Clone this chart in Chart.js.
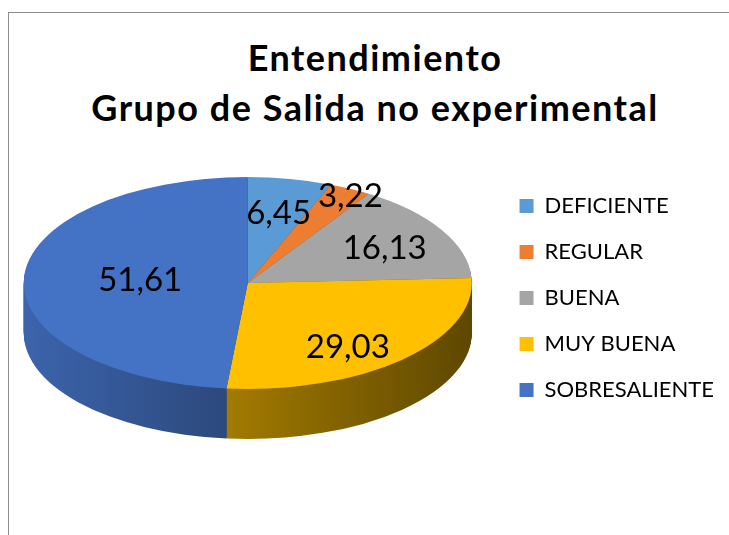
<!DOCTYPE html>
<html>
<head>
<meta charset="utf-8">
<title>Entendimiento - Grupo de Salida no experimental</title>
<script src="https://cdn.jsdelivr.net/npm/chart.js@4.4.1/dist/chart.umd.min.js"></script>
<style>
  html, body { margin: 0; padding: 0; background: #fff; }
  #wrap { position: relative; width: 729px; height: 535px; overflow: hidden; }
  #frame { position: absolute; left: 8px; top: 12px; width: 800px; height: 600px;
           border-left: 1px solid #8c8c8c; border-top: 1px solid #8c8c8c; }
  #titulo { position: absolute; left: 0; top: 32px; width: 750px; text-align: center;
            font: bold 36px/50px Lato, "Open Sans", sans-serif; letter-spacing: 1.5px; color: #000; }
  #grafico { position: absolute; left: 0; top: 0; }
</style>
</head>
<body>
<div id="wrap">
  <div id="frame"></div>
  <div id="titulo">Entendimiento<br>Grupo de Salida no experimental</div>
  <canvas id="grafico" width="729" height="535"></canvas>
</div>
<script>
const categorias = ["DEFICIENTE", "REGULAR", "BUENA", "MUY BUENA", "SOBRESALIENTE"];
const valores = [6.45, 3.22, 16.13, 29.03, 51.61];
const colores = ["#5B9BD5", "#ED7D31", "#A5A5A5", "#FFC000", "#4472C4"];

// look of the tilted pie
const SQUASH = 0.473;
const DEPTH = 50;
const PIE_Y = 283;

Chart.defaults.font.family = "Lato, 'Open Sans', sans-serif";

function hexRgb(hex) {
  const n = parseInt(hex.slice(1), 16);
  return [(n >> 16) & 255, (n >> 8) & 255, n & 255];
}

function shade(hex, f) {
  const [r, g, b] = hexRgb(hex).map(v => Math.round(v * f));
  return `rgb(${r},${g},${b})`;
}

// move the pie to PIE_Y and flatten it
function tilt(ctx, arc) {
  ctx.translate(arc.x, PIE_Y);
  ctx.scale(1, SQUASH);
  ctx.translate(-arc.x, -arc.y);
}

const pie3d = {
  id: "pie3d",
  beforeDatasetsDraw(chart) {
    const ctx = chart.ctx;
    const arcs = chart.getDatasetMeta(0).data;
    const first = arcs[0];
    const r = first.outerRadius;

    // side walls, darker towards the right
    const sides = arcs.map((arc, i) => {
      const g = ctx.createLinearGradient(first.x - r, 0, first.x + r, 0);
      g.addColorStop(0, shade(colores[i], 0.88));
      g.addColorStop(0.45, shade(colores[i], 0.64));
      g.addColorStop(1, shade(colores[i], 0.37));
      return g;
    });

    for (let d = DEPTH; d > 0; d--) {
      ctx.save();
      ctx.translate(0, d);
      tilt(ctx, first);
      arcs.forEach((arc, i) => {
        const o = arc.options;
        const bg = o.backgroundColor;
        o.backgroundColor = sides[i];
        arc.draw(ctx);
        o.backgroundColor = bg;
      });
      ctx.restore();
    }

    ctx.save();
    tilt(ctx, first);
  },
  afterDatasetsDraw(chart) {
    const ctx = chart.ctx;
    ctx.restore();

    // value labels
    const arcs = chart.getDatasetMeta(0).data;
    ctx.save();
    ctx.font = "33px Lato, 'Open Sans', sans-serif";
    ctx.fillStyle = "#000";
    ctx.textAlign = "center";
    ctx.textBaseline = "middle";
    arcs.forEach((arc, i) => {
      const half = (arc.endAngle - arc.startAngle) / 2;
      const mid = arc.startAngle + half;
      const share = half / Math.PI;
      const f = share < 0.05 ? 1 : 1.1 * 2 * Math.sin(half) / (3 * half);
      const s = Math.sin(mid);
      const x = arc.x + Math.cos(mid) * f * arc.outerRadius;
      // front half looks a bit bigger
      const y = PIE_Y + s * f * arc.outerRadius * SQUASH * (s > 0 ? 1.3 : 0.92);
      ctx.fillText(valores[i].toFixed(2).replace(".", ","), x, y);
    });
    ctx.restore();
  }
};

new Chart(document.getElementById("grafico"), {
  type: "pie",
  data: {
    labels: categorias,
    datasets: [{
      data: valores,
      backgroundColor: colores,
      borderWidth: 0,
      radius: 224,
      clip: false
    }]
  },
  options: {
    responsive: false,
    animation: false,
    events: [],
    layout: { padding: { top: 130, bottom: 69, left: 0, right: 5 } },
    plugins: {
      tooltip: { enabled: false },
      legend: {
        position: "right",
        labels: {
          color: "#000",
          boxWidth: 14,
          boxHeight: 14,
          padding: 24,
          font: { size: 22 }
        }
      }
    }
  },
  plugins: [pie3d]
});
</script>
</body>
</html>
